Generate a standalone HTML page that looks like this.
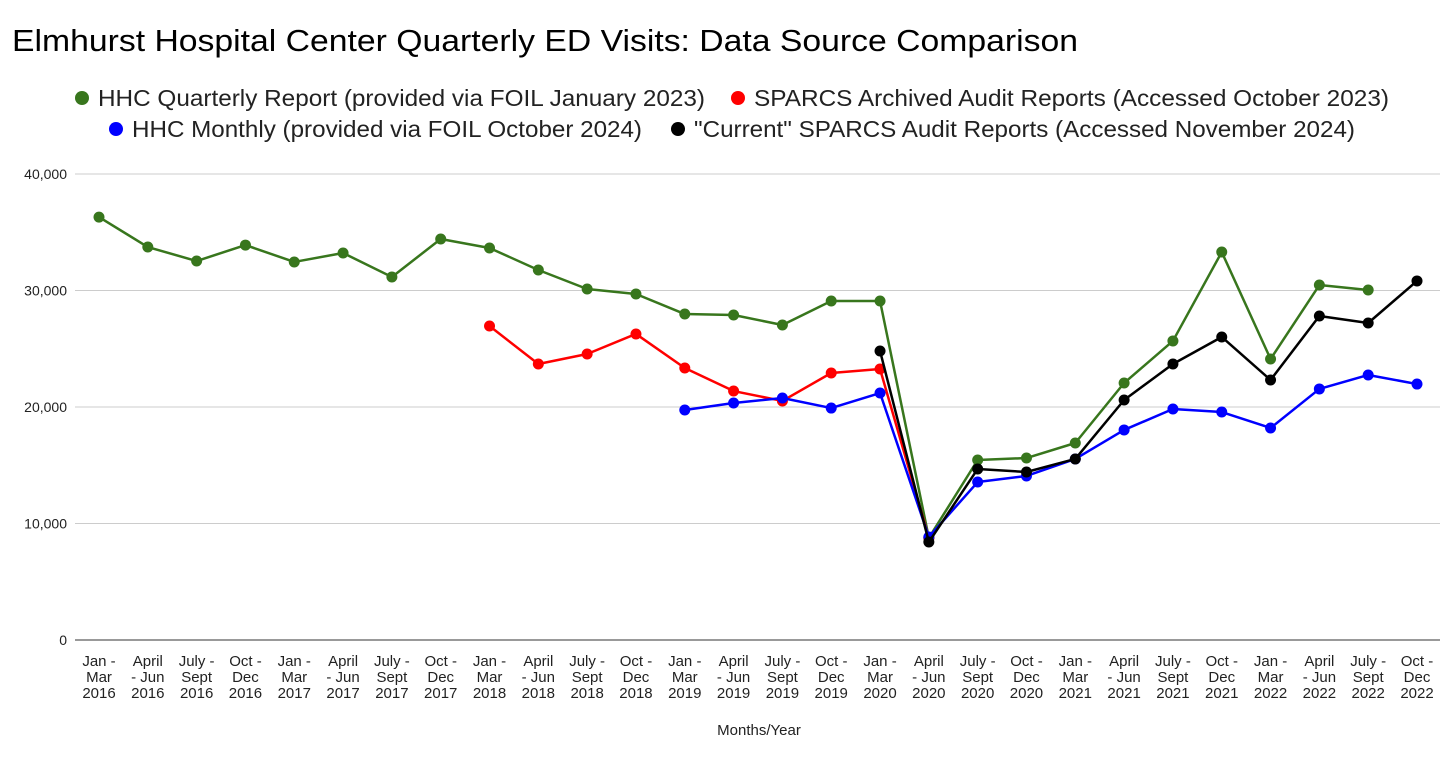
<!DOCTYPE html>
<html><head><meta charset="utf-8">
<style>
body{margin:0;background:#fff;font-family:"Liberation Sans",Arial,sans-serif;}
svg text{font-family:"Liberation Sans",Arial,sans-serif;}
</style></head>
<body>
<svg id="chart" width="1456" height="760" xmlns="http://www.w3.org/2000/svg">
<text x="12" y="51" font-size="31" textLength="1066" lengthAdjust="spacingAndGlyphs" fill="#000">Elmhurst Hospital Center Quarterly ED Visits: Data Source Comparison</text>
<g font-size="23" fill="#222">
<g><circle cx="82" cy="98" r="7" fill="#38761d"/><text x="98" y="106" textLength="607" lengthAdjust="spacingAndGlyphs">HHC Quarterly Report (provided via FOIL January 2023)</text></g>
<g><circle cx="738" cy="98" r="7" fill="#ff0000"/><text x="754" y="106" textLength="635" lengthAdjust="spacingAndGlyphs">SPARCS Archived Audit Reports (Accessed October 2023)</text></g>
<g><circle cx="116" cy="129" r="7" fill="#0000ff"/><text x="132" y="137" textLength="510" lengthAdjust="spacingAndGlyphs">HHC Monthly (provided via FOIL October 2024)</text></g>
<g><circle cx="678" cy="129" r="7" fill="#000"/><text x="694" y="137" textLength="661" lengthAdjust="spacingAndGlyphs">"Current" SPARCS Audit Reports (Accessed November 2024)</text></g>
</g>
<g id="grid"></g><g id="xlabels"></g><g id="series"></g>
<text x="759" y="735" font-size="15" text-anchor="middle" fill="#222">Months/Year</text>
</svg>
<script>
const categories=[["Jan -","Mar","2016"],["April","- Jun","2016"],["July -","Sept","2016"],["Oct -","Dec","2016"],["Jan -","Mar","2017"],["April","- Jun","2017"],["July -","Sept","2017"],["Oct -","Dec","2017"],["Jan -","Mar","2018"],["April","- Jun","2018"],["July -","Sept","2018"],["Oct -","Dec","2018"],["Jan -","Mar","2019"],["April","- Jun","2019"],["July -","Sept","2019"],["Oct -","Dec","2019"],["Jan -","Mar","2020"],["April","- Jun","2020"],["July -","Sept","2020"],["Oct -","Dec","2020"],["Jan -","Mar","2021"],["April","- Jun","2021"],["July -","Sept","2021"],["Oct -","Dec","2021"],["Jan -","Mar","2022"],["April","- Jun","2022"],["July -","Sept","2022"],["Oct -","Dec","2022"]];
const yTicks=[0,10000,20000,30000,40000];
const yTickLabels=["0","10,000","20,000","30,000","40,000"];
const hhcQuarterly=[36300,33730,32530,33900,32450,33220,31160,34420,33650,31760,30130,29700,27980,27900,27040,29100,29100,8760,15450,15620,16910,22060,25670,33300,24120,30470,30040,null];
const sparcsArchived=[null,null,null,null,null,null,null,null,26950,23690,24550,26270,23350,21370,20520,22920,23260,8760,null,null,null,null,null,null,null,null,null,null];
const hhcMonthly=[null,null,null,null,null,null,null,null,null,null,null,null,19740,20340,20770,19910,21200,8840,13560,14080,15540,18030,19830,19570,18200,21550,22750,21970];
const currentSparcs=[null,null,null,null,null,null,null,null,null,null,null,null,null,null,null,null,24810,8410,14680,14420,15540,20600,23690,26010,22320,27810,27210,30820];
const NS="http://www.w3.org/2000/svg";
const x0=99,x1=1417,yBase=640,yTop=174,yMax=40000;
const xs=i=>x0+i*(x1-x0)/(categories.length-1);
const ys=v=>yBase-(v/yMax)*(yBase-yTop);
function mk(tag,attrs,parent){const e=document.createElementNS(NS,tag);for(const k in attrs)e.setAttribute(k,attrs[k]);parent.appendChild(e);return e;}
const grid=document.getElementById('grid');
yTicks.forEach((t,i)=>{
 const l=mk('line',{x1:75,x2:1440,y1:ys(t),y2:ys(t),stroke:i===0?'#333':'#ccc','stroke-width':1},grid);
 
 
 const tx=mk('text',{x:67,y:ys(t)+5,'font-size':14,'text-anchor':'end',fill:'#222'},grid);
 tx.textContent=yTickLabels[i];
 
 
});
const xl=document.getElementById('xlabels');
categories.forEach((c,i)=>{
 const t=mk('text',{'font-size':15,'text-anchor':'middle',fill:'#222'},xl);
 
 
 c.forEach((s,j)=>{const ts=mk('tspan',{x:xs(i),y:666+j*16},t);ts.textContent=s;});
});
const sg=document.getElementById('series');
function draw(vals,color,name){
 const g=mk('g',{},sg);
 
 
 let d='';let pen=false;
 vals.forEach((v,i)=>{if(v==null){pen=false;return;}d+=(pen?'L':'M')+xs(i)+' '+ys(v)+' ';pen=true;});
 mk('path',{d:d,fill:'none',stroke:color,'stroke-width':2.5,'stroke-linejoin':'round'},g);
 vals.forEach((v,i)=>{if(v==null)return;
  const c=mk('circle',{cx:xs(i),cy:ys(v),r:5.5,fill:color},g);
  
  
 });
}
draw(hhcQuarterly,'#38761d','hhc-quarterly');
draw(sparcsArchived,'#ff0000','sparcs-archived');
draw(hhcMonthly,'#0000ff','hhc-monthly');
draw(currentSparcs,'#000000','current-sparcs');
</script>
</body></html>
